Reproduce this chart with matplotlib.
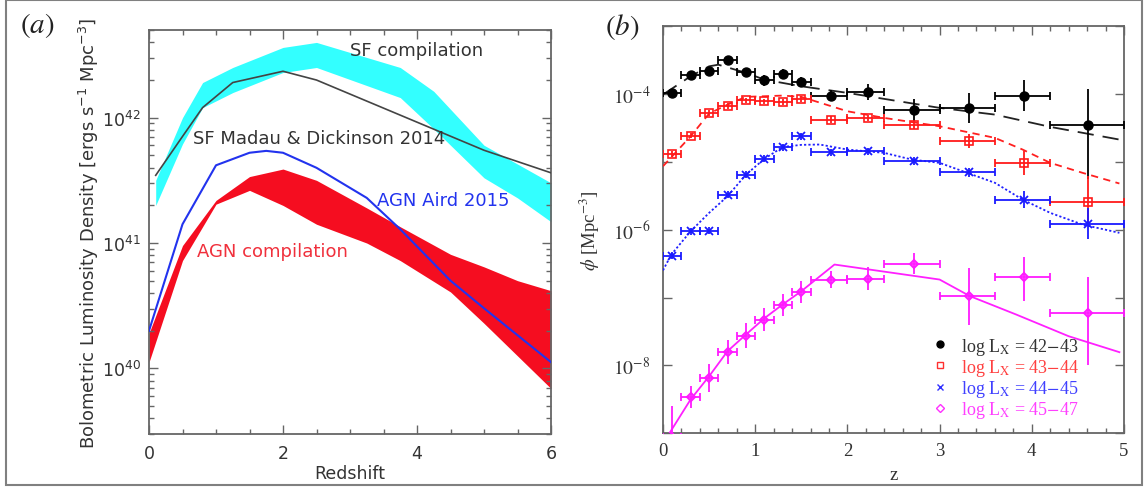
"""
Two-panel figure: (a) bolometric luminosity density of star formation and AGN
versus redshift, (b) X-ray luminosity function space density in L_X bins.
"""
import numpy as np
import matplotlib
matplotlib.use("Agg")
import matplotlib.pyplot as plt
from matplotlib.lines import Line2D
from matplotlib.patches import Rectangle
from matplotlib.ticker import FixedLocator, MultipleLocator, LogLocator, NullFormatter

# ---- panel (a): log10 luminosity density [erg s^-1 Mpc^-3]
SF_Z   = [0.1, 0.5, 0.8, 1.25, 2.0, 2.5, 3.75, 4.25, 5.0, 5.5, 6.0]
SF_HI  = [41.50, 42.00, 42.28, 42.40, 42.56, 42.60, 42.40, 42.21, 41.78, 41.63, 41.48]
SF_LO  = [41.30, 41.79, 42.08, 42.20, 42.36, 42.40, 42.16, 41.91, 41.52, 41.36, 41.17]

MD_Z   = [0.1, 0.5, 0.8, 1.25, 2.0, 2.5, 3.75, 5.0, 6.0]
MD_L   = [41.54, 41.85, 42.08, 42.28, 42.37, 42.30, 42.02, 41.74, 41.56]

AIRD_Z = [0.0, 0.5, 1.0, 1.5, 1.75, 2.0, 2.5, 3.25, 3.75, 4.5, 5.0, 6.0]
AIRD_L = [40.30, 41.15, 41.62, 41.72, 41.735, 41.72, 41.60, 41.36, 41.11, 40.70, 40.48, 40.05]

AGN_Z  = [0.0, 0.5, 1.0, 1.5, 2.0, 2.5, 3.25, 3.75, 4.5, 5.0, 5.5, 6.0]
AGN_HI = [40.28, 40.98, 41.34, 41.53, 41.59, 41.50, 41.28, 41.13, 40.91, 40.81, 40.70, 40.62]
AGN_LO = [40.05, 40.86, 41.31, 41.42, 41.30, 41.15, 41.00, 40.86, 40.61, 40.36, 40.10, 39.84]

# ---- panel (b): redshift bins and log10 phi [Mpc^-3]
Z_LO  = [0.0, 0.2, 0.4, 0.6, 0.8, 1.0, 1.2, 1.4, 1.6, 2.0, 2.4, 3.0, 3.6, 4.2]
Z_HI  = [0.2, 0.4, 0.6, 0.8, 1.0, 1.2, 1.4, 1.6, 2.0, 2.4, 3.0, 3.6, 4.2, 5.0]
Z_MID = [0.1, 0.3, 0.5, 0.7, 0.9, 1.1, 1.3, 1.5, 1.82, 2.22, 2.72, 3.32, 3.91, 4.61]

PHI_4243    = [-3.985, -3.716, -3.657, -3.505, -3.682, -3.80, -3.705, -3.823,
               -4.025, -3.97, -4.24, -4.206, -4.025, -4.452]
PHI_4243_UP = [0.05, 0.05, 0.05, 0.05, 0.05, 0.08, 0.07, 0.07, 0.08, 0.12, 0.16, 0.22, 0.23, 0.52]
PHI_4243_DN = [0.05, 0.05, 0.05, 0.05, 0.05, 0.08, 0.07, 0.07, 0.08, 0.12, 0.16, 0.22, 0.23, 0.80]

PHI_4344    = [-4.884, -4.614, -4.28, -4.18, -4.094, -4.109, -4.119, -4.075,
               -4.378, -4.354, -4.462, -4.698, -5.016, -5.596]
PHI_4344_UP = [0.04, 0.04, 0.04, 0.04, 0.04, 0.04, 0.04, 0.04, 0.05, 0.05, 0.06, 0.10, 0.18, 0.39]
PHI_4344_DN = [0.04, 0.04, 0.04, 0.04, 0.04, 0.04, 0.04, 0.04, 0.05, 0.05, 0.06, 0.10, 0.18, 0.35]

PHI_4445    = [-6.381, -6.023, -6.013, -5.483, -5.189, -4.957, -4.786, -4.624,
               -4.86, -4.846, -4.993, -5.155, -5.557, -5.91]
PHI_4445_UP = [0.05, 0.05, 0.05, 0.05, 0.05, 0.05, 0.05, 0.05, 0.05, 0.05, 0.06, 0.07, 0.12, 0.23]
PHI_4445_DN = PHI_4445_UP

PHI_4547    = [-9.05, -8.468, -8.183, -7.80, -7.56, -7.324, -7.113, -6.922,
               -6.735, -6.725, -6.50, -6.98, -6.695, -7.225]
PHI_4547_UP = [0.45, 0.16, 0.21, 0.18, 0.18, 0.17, 0.16, 0.16, 0.12, 0.17, 0.15, 0.42, 0.29, 0.53]
PHI_4547_DN = [0.50, 0.16, 0.21, 0.18, 0.18, 0.17, 0.16, 0.16, 0.12, 0.17, 0.15, 0.42, 0.36, 0.77]

# model curves
MOD_4243_Z = [0.0, 0.3, 0.5, 0.6, 0.9, 1.1, 1.5, 2.0, 2.4, 3.0, 3.6, 4.2, 4.95]
MOD_4243   = [-4.01, -3.74, -3.594, -3.57, -3.69, -3.79, -3.888, -3.985, -4.074,
              -4.206, -4.305, -4.486, -4.673]
MOD_4344_Z = [0.0, 0.3, 0.5, 0.7, 0.9, 1.3, 1.5, 2.0, 2.4, 3.0, 3.6, 3.9, 4.2, 4.55, 4.95]
MOD_4344   = [-5.066, -4.624, -4.29, -4.158, -4.044, -4.025, -4.044, -4.256, -4.354,
              -4.477, -4.648, -4.82, -5.016, -5.163, -5.32]
MOD_4445_Z = [0.0, 0.09, 0.3, 0.5, 0.7, 0.9, 1.1, 1.3, 1.5, 1.7, 2.0, 2.4, 2.7, 3.0,
              3.3, 3.6, 3.9, 4.2, 4.55, 4.95]
MOD_4445   = [-6.6, -6.367, -6.023, -5.753, -5.508, -5.189, -4.957, -4.781, -4.751,
              -4.746, -4.82, -4.869, -4.968, -5.016, -5.163, -5.31, -5.557, -5.753,
              -5.925, -6.047]
MOD_4547_Z = [0.06, 0.3, 0.5, 0.7, 0.9, 1.1, 1.3, 1.5, 1.86, 3.0, 3.33, 3.83, 4.4, 4.95]
MOD_4547   = [-9.02, -8.50, -8.16, -7.79, -7.545, -7.305, -7.10, -6.907, -6.514,
              -6.735, -6.98, -7.25, -7.57, -7.805]

LEGEND_LABELS = [r"log L$_{\mathrm{X}}$ = 42$-$43", r"log L$_{\mathrm{X}}$ = 43$-$44",
                 r"log L$_{\mathrm{X}}$ = 44$-$45", r"log L$_{\mathrm{X}}$ = 45$-$47"]

SPINE_COL = "#666666"
TEXT_COL  = "#333333"
SANS      = "DejaVu Sans"
SERIF     = "Liberation Serif"


def lin(vals):
    return 10.0 ** np.asarray(vals, dtype=float)


def style_axes(ax):
    for sp in ax.spines.values():
        sp.set_color(SPINE_COL)
        sp.set_linewidth(1.3)
    ax.tick_params(which="both", direction="in", top=True, right=True,
                   color=SPINE_COL, labelcolor=TEXT_COL, width=1.0)
    ax.tick_params(which="major", length=6.5)
    ax.tick_params(which="minor", length=3.3)


def draw_panel_a(ax):
    ax.fill_between(SF_Z, lin(SF_LO), lin(SF_HI), color="#33ffff", lw=0, zorder=1)
    ax.fill_between(AGN_Z, lin(AGN_LO), lin(AGN_HI), color="#f50d20", lw=0, zorder=1)
    ax.plot(MD_Z, lin(MD_L), color="#444444", lw=1.2, zorder=3)
    ax.plot(AIRD_Z, lin(AIRD_L), color="#2233ee", lw=1.5, zorder=3)

    ax.set_yscale("log")
    ax.set_xlim(0, 6)
    ax.set_ylim(3e39, 5e42)
    style_axes(ax)
    ax.xaxis.set_major_locator(FixedLocator([0, 2, 4, 6]))
    ax.xaxis.set_minor_locator(MultipleLocator(0.5))
    ax.set_yticks([1e40, 1e41, 1e42], labels=[r"$10^{40}$", r"$10^{41}$", r"$10^{42}$"])
    ax.yaxis.set_minor_locator(LogLocator(base=10, subs=np.arange(2, 10)))
    ax.yaxis.set_minor_formatter(NullFormatter())
    ax.tick_params(axis="x", labelsize=12.5, pad=7)
    ax.tick_params(axis="y", labelsize=12.5, pad=6)
    for lbl in ax.get_xticklabels() + ax.get_yticklabels():
        lbl.set_fontfamily(SANS)

    ax.set_xlabel("Redshift", fontsize=12.5, family=SANS, color=TEXT_COL, labelpad=1.5)
    ax.set_ylabel(r"Bolometric Luminosity Density [ergs s$^{-1}$ Mpc$^{-3}$]",
                  fontsize=13, family=SANS, color=TEXT_COL, labelpad=0.5)

    kw = dict(transform=ax.transData, fontsize=13, family=SANS, va="center", ha="left")
    ax.text(3.0, 10 ** 42.54, "SF compilation", color=TEXT_COL, **kw)
    ax.text(0.65, 10 ** 41.84, "SF Madau & Dickinson 2014", color=TEXT_COL, **kw)
    ax.text(3.40, 10 ** 41.34, "AGN Aird 2015", color="#2233ee", **kw)
    ax.text(0.72, 10 ** 40.94, "AGN compilation", color="#f0303c", **kw)


def draw_points(ax, logphi, up, dn, color, marker, mfc, ms, mew):
    z = np.asarray(Z_MID)
    y = lin(logphi)
    yerr = [y - lin(np.asarray(logphi) - np.asarray(dn)), lin(np.asarray(logphi) + np.asarray(up)) - y]
    xerr = [z - np.asarray(Z_LO), np.asarray(Z_HI) - z]
    ax.errorbar(z, y, xerr=xerr, fmt="none", ecolor=color, elinewidth=1.3, capsize=3,
                capthick=1.3, zorder=4)
    ax.errorbar(z, y, yerr=yerr, fmt="none", ecolor=color, elinewidth=1.3, capsize=0, zorder=4)
    ax.plot(z, y, ls="none", marker=marker, color=color, mfc=mfc, ms=ms, mew=mew, zorder=5)


def draw_panel_b(ax):
    ax.plot(MOD_4243_Z, lin(MOD_4243), color="#222222", lw=1.3, dashes=(9, 5), zorder=3)
    ax.plot(MOD_4344_Z, lin(MOD_4344), color="#ff2020", lw=1.3, dashes=(4, 3), zorder=3)
    ax.plot(MOD_4445_Z, lin(MOD_4445), color="#2020ff", lw=1.3, dashes=(1.2, 1.2), zorder=3)
    ax.plot(MOD_4547_Z, lin(MOD_4547), color="#ff20ff", lw=1.3, zorder=3)

    draw_points(ax, PHI_4243, PHI_4243_UP, PHI_4243_DN, "#000000", "o", "#000000", 6.5, 1.0)
    draw_points(ax, PHI_4344, PHI_4344_UP, PHI_4344_DN, "#ff1a1a", "s", "none", 5.5, 1.2)
    draw_points(ax, PHI_4445, PHI_4445_UP, PHI_4445_DN, "#1a1aff", "x", "none", 6.0, 1.3)
    draw_points(ax, PHI_4547, PHI_4547_UP, PHI_4547_DN, "#ff1aff", "D", "none", 4.5, 1.5)

    ax.set_yscale("log")
    ax.set_xlim(0, 5)
    ax.set_ylim(1e-9, 1e-3)
    style_axes(ax)
    ax.xaxis.set_major_locator(MultipleLocator(1))
    ax.xaxis.set_minor_locator(MultipleLocator(0.2))
    decades = [10.0 ** e for e in range(-9, -2)]
    labels = [r"$10^{%d}$" % e if e in (-4, -6, -8) else "" for e in range(-9, -2)]
    ax.set_yticks(decades, labels=labels)
    ax.yaxis.set_minor_locator(FixedLocator([]))
    ax.tick_params(axis="x", labelsize=13.5, pad=6)
    ax.tick_params(axis="y", labelsize=14, pad=9)
    for lbl in ax.get_xticklabels() + ax.get_yticklabels():
        lbl.set_fontfamily(SERIF)
        lbl.set_math_fontfamily("stix")

    ax.set_xlabel("z", fontsize=13.5, family=SERIF, color=TEXT_COL, labelpad=5)
    ax.set_ylabel(r"$\phi$ [Mpc$^{-3}$]", fontsize=13.5, family=SERIF, color=TEXT_COL,
                  labelpad=8, math_fontfamily="stix")

    handles = [
        Line2D([], [], ls="none", marker="o", color="#000000", ms=5),
        Line2D([], [], ls="none", marker="s", color="#ff3030", mfc="none", ms=4.5, mew=1.0),
        Line2D([], [], ls="none", marker="x", color="#3030ff", ms=5, mew=1.0),
        Line2D([], [], ls="none", marker="D", color="#ff30ff", mfc="none", ms=4, mew=1.0),
    ]
    leg = ax.legend(handles, LEGEND_LABELS, loc="upper left", bbox_to_anchor=(0.561, 0.262),
                    frameon=False, borderpad=0, handlelength=1.0, handletextpad=0.7,
                    labelspacing=0.01, prop={"family": SERIF, "size": 13},
                    labelcolor=["#333333", "#ff4040", "#4040ff", "#ff40ff"])
    for t in leg.get_texts():
        t.set_math_fontfamily("stix")


def main():
    fig = plt.figure(figsize=(11.48, 4.89), dpi=100)
    fig.patch.set_facecolor("white")

    ax_a = fig.add_axes([149 / 1148, 1 - 435 / 489, 402 / 1148, 404 / 489])
    ax_b = fig.add_axes([663 / 1148, 1 - 434.3 / 489, 461 / 1148, 407.3 / 489])
    draw_panel_a(ax_a)
    draw_panel_b(ax_b)

    fig.text(20 / 1148, 1 - 25 / 489, r"$(a)$", fontsize=21, va="center", ha="left",
             color="#222222", math_fontfamily="stix")
    fig.text(605 / 1148, 1 - 27 / 489, r"$(b)$", fontsize=21, va="center", ha="left",
             color="#222222", math_fontfamily="stix")

    # grey frame around the whole figure
    fig.patches.append(Rectangle((6 / 1148, 1 - 486 / 489), 1136 / 1148, 485 / 489,
                                 transform=fig.transFigure, fill=False,
                                 edgecolor="#808080", lw=1.5))

    fig.savefig("out.png", dpi=100, facecolor=fig.get_facecolor())
    plt.close(fig)


if __name__ == "__main__":
    main()
